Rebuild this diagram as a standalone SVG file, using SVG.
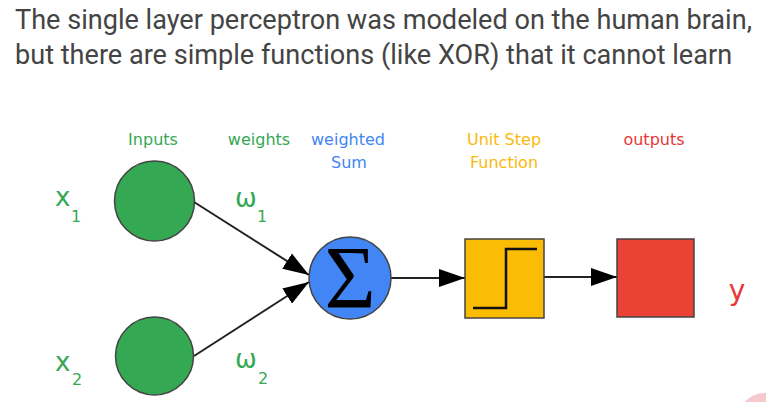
<svg xmlns="http://www.w3.org/2000/svg" width="766" height="402" viewBox="0 0 766 402">
<style>
.title{font-family:Roboto,"Liberation Sans",sans-serif;font-size:27.1px;fill:#444444}
.lbl{font-family:"DejaVu Sans","Liberation Sans",sans-serif;font-size:16px}
.g{fill:#34A853}
.b{fill:#4285F4}
.o{fill:#F9B90A}
.r{fill:#E53935}
.lbl.big{font-size:26px}
.lbl.sub{font-size:16px}
.conn{stroke:#222;stroke-width:2;fill:none}
.node{stroke:#444;stroke-width:1.5}
</style>
<defs>
<marker id="ah" viewBox="0 0 26 18" refX="26" refY="9" markerWidth="26" markerHeight="18" markerUnits="userSpaceOnUse" orient="auto">
<path d="M0,0 L26,9 L0,18 Z" fill="#000"/>
</marker>
</defs>
<rect width="766" height="402" fill="#ffffff"/>
<text class="title" x="15" y="29">The single layer perceptron was modeled on the human brain,</text>
<text class="title" x="15" y="64">but there are simple functions (like XOR) that it cannot learn</text>

<g id="labels">
<text class="lbl g" x="153" y="145" text-anchor="middle">Inputs</text>
<text class="lbl g" x="259" y="145" text-anchor="middle">weights</text>
<text class="lbl b" x="348" y="145" text-anchor="middle">weighted</text>
<text class="lbl b" x="349" y="168" text-anchor="middle">Sum</text>
<text class="lbl o" x="504" y="145" text-anchor="middle">Unit Step</text>
<text class="lbl o" x="504" y="168" text-anchor="middle">Function</text>
<text class="lbl r" x="654" y="145" text-anchor="middle">outputs</text>
</g>

<g id="connectors">
<line class="conn" x1="194" y1="202" x2="309" y2="275" marker-end="url(#ah)"/>
<line class="conn" x1="194" y1="356" x2="309" y2="282" marker-end="url(#ah)"/>
<line class="conn" x1="391" y1="278" x2="465" y2="278" marker-end="url(#ah)"/>
<line class="conn" x1="544" y1="277" x2="617" y2="277" marker-end="url(#ah)"/>
</g>

<g id="input1">
<circle class="node" cx="154.5" cy="201" r="40" fill="#34A853"/>
<text class="lbl g big" x="55" y="206">x</text>
<text class="lbl g sub" x="71" y="222">1</text>
</g>
<g id="input2">
<circle class="node" cx="154.5" cy="356" r="39" fill="#34A853"/>
<text class="lbl g big" x="55" y="371">x</text>
<text class="lbl g sub" x="72" y="385">2</text>
</g>
<g id="weight1">
<text class="lbl g big" x="235" y="207">ω</text>
<text class="lbl g sub" x="257" y="222">1</text>
</g>
<g id="weight2">
<text class="lbl g big" x="235" y="368">ω</text>
<text class="lbl g sub" x="258" y="384">2</text>
</g>

<g id="sum">
<circle class="node" cx="350" cy="278" r="41" fill="#4285F4"/>
<text x="350" y="307" text-anchor="middle" font-family="'Liberation Serif',serif" font-size="88" fill="#000">Σ</text>
</g>

<g id="step">
<rect class="node" x="465" y="239" width="79" height="79" fill="#FBBC04"/>
<path d="M473,308 H506 V249 H537" stroke="#111" stroke-width="2.5" fill="none"/>
</g>

<g id="output">
<rect class="node" x="617" y="239" width="77" height="78" fill="#EA4335"/>
</g>
<g id="ylabel">
<text class="lbl r" x="737" y="300" style="font-size:28px" text-anchor="middle">y</text>
</g>

<circle cx="764" cy="418" r="25" fill="#F6C9CC"/>
</svg>
